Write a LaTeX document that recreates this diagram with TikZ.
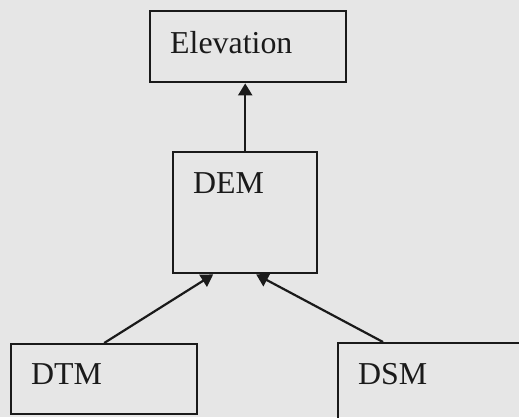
\documentclass[tikz,border=0pt]{standalone}
\usepackage{fontspec}
\setmainfont{Liberation Serif}
\usepackage{xcolor}
\usepackage{tikz}
\usetikzlibrary{arrows.meta}
\definecolor{paper}{HTML}{E6E6E6}
\definecolor{ink}{HTML}{1A1A1A}
\tikzset{box/.style={draw=ink, line width=2.4bp, text=ink, anchor=north west,
   align=left, inner xsep=20bp, inner ysep=0bp,
   font=\fontsize{32}{36}\selectfont},
 link/.style={draw=ink, line width=2.2bp, -{Triangle[length=12bp,width=14bp]}},
 }

\begin{document}
\begin{tikzpicture}[x=1bp,y=-1bp]
        \fill[paper] (0,0) rectangle (519,417);
        \useasboundingbox (0,0) rectangle (519,417);
        \clip (0,0) rectangle (519,417);
        \node[box, text width=156bp, text height=42bp, text depth=29bp] (elev) at (149,10) {Elevation};
        \node[box, text width=104bp, text height=41bp, text depth=80bp] (dem) at (172,151) {DEM};
        \node[box, text width=146bp, text height=40bp, text depth=30bp] (dtm) at (10,343) {DTM};
        \node[box, text width=180bp, text height=41bp, text depth=60bp] (dsm) at (337,342) {DSM};
        \coordinate (inleft) at ([xshift=-32bp]dem.south);
        \coordinate (inright) at ([xshift=11bp]dem.south);
        \draw[link] (dem.north) -- (dem.north |- elev.south);
        \draw[link] (dtm.north) -- (inleft);
        \draw[link] ([xshift=46bp]dsm.north west) -- (inright);
    \end{tikzpicture}
\end{document}
